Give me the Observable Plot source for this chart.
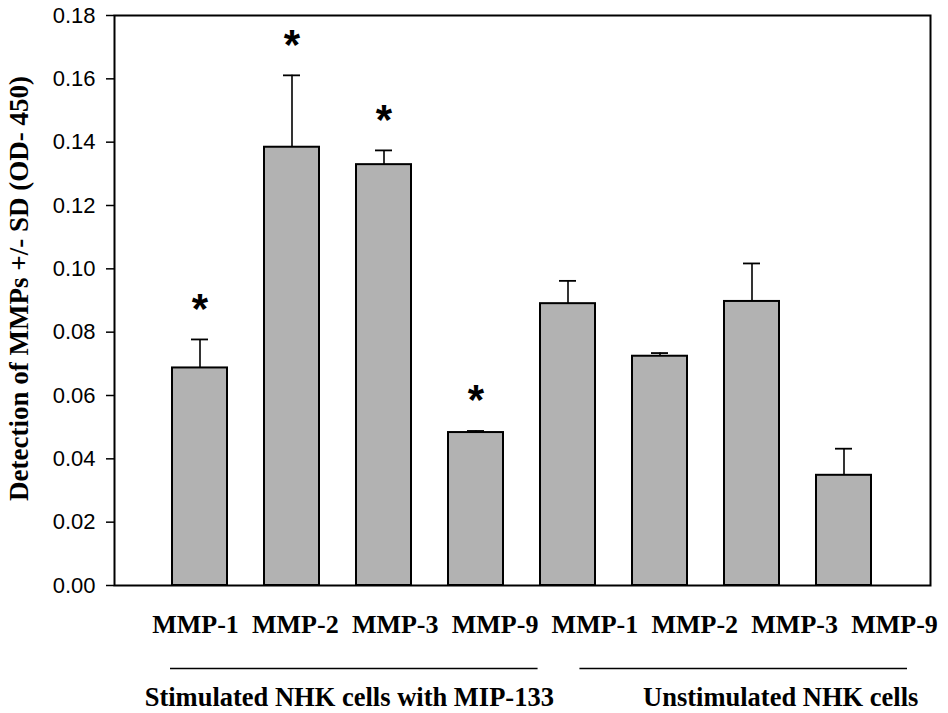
<!DOCTYPE html>
<html><head><meta charset="utf-8">
<script src="https://cdn.jsdelivr.net/npm/d3@7"></script>
<script src="https://cdn.jsdelivr.net/npm/@observablehq/plot@0.6"></script>
<style>
body{margin:0;background:#fff;}
#chart{position:relative;width:948px;height:713px;background:#fff;}
#chart svg{position:absolute;left:0;}
</style></head><body><div id="chart"></div>
<script>
const groups = ["Stimulated NHK cells with MIP-133", "Unstimulated NHK cells"];
const mmps = ["MMP-1", "MMP-2", "MMP-3", "MMP-9"];
const stimMeans = [0.0687, 0.1384, 0.1329, 0.0483];
const stimSD = [0.0090, 0.0227, 0.0045, 0.0005];
const stimSignificant = [true, true, true, true];
const unstimMeans = [0.0890, 0.0724, 0.0897, 0.0348];
const unstimSD = [0.0072, 0.0010, 0.0120, 0.0084];
const unstimSignificant = [false, false, false, false];
const yTicks = [0, 0.02, 0.04, 0.06, 0.08, 0.10, 0.12, 0.14, 0.16, 0.18];
const yTitle = "Detection of MMPs +/- SD (OD- 450)";

const means = [stimMeans, unstimMeans];
const sds = [stimSD, unstimSD];
const sigs = [stimSignificant, unstimSignificant];
const rows = [];
groups.forEach((g, gi) => mmps.forEach((m, mi) => rows.push({
  key: gi + "|" + m, group: g, gi, mmp: m,
  mean: means[gi][mi], sd: sds[gi][mi], sig: sigs[gi][mi], index: rows.length
})));
const spans = groups.map((g, gi) => {
  const r = rows.filter(d => d.gi === gi);
  return {group: g, gi, first: r[0].index, last: r[r.length - 1].index};
});

const serif = "'Liberation Serif', 'Times New Roman', serif";
const sans = "'Liberation Sans', Arial, sans-serif";

const main = Plot.plot({
  width: 948, height: 600,
  marginLeft: 114, marginRight: 18, marginTop: 15, marginBottom: 15,
  x: {type: "band", domain: rows.map(d => d.key), paddingInner: 0.4, paddingOuter: 0.6, axis: null},
  y: {domain: [0, 0.18], axis: null},
  style: {background: "white", fontFamily: sans, fontSize: "22px", color: "black", overflow: "visible"},
  marks: [
    Plot.barY(rows, {x: "key", y: "mean", fill: "#b2b2b2", stroke: "black", strokeWidth: 2}),
    Plot.ruleX(rows, {x: "key", y1: "mean", y2: d => d.mean + d.sd, stroke: "black", strokeWidth: 1.6}),
    Plot.tickY(rows, {x: "key", y: d => d.mean + d.sd, stroke: "black", strokeWidth: 1.8, insetLeft: 19, insetRight: 19}),
    Plot.text(rows.filter(d => d.sig), {x: "key", y: d => d.mean + d.sd, text: () => "*", fontSize: 42, fontWeight: "bold", fontFamily: sans, lineAnchor: "middle", dy: -30, fill: "black"}),
    Plot.frame({stroke: "black", strokeWidth: 2}),
    Plot.axisY({ticks: yTicks, tickFormat: d3.format(".2f"), tickSize: 8, tickPadding: 11, label: null, stroke: "black", strokeWidth: 1.5, fill: "black"}),
    Plot.text([yTitle], {frameAnchor: "left", textAnchor: "middle", rotate: -90, dx: -95, dy: -12, text: d => d, fontFamily: serif, fontWeight: "bold", fontSize: 27, lineAnchor: "middle", fill: "black"})
  ]
});
main.style.top = "0px";

const ann = Plot.plot({
  width: 948, height: 113,
  marginLeft: 195, marginRight: 54, marginTop: 0, marginBottom: 45,
  x: {domain: [0, 7], axis: null},
  y: {domain: [0, 1], axis: null},
  style: {background: "transparent", overflow: "visible"},
  marks: [
    Plot.text(rows, {x: "index", text: "mmp", frameAnchor: "top", dy: 24, lineAnchor: "middle", fontFamily: serif, fontWeight: "bold", fontSize: 26, fill: "black"}),
    Plot.ruleY(spans.filter(d => d.gi === 0), {y: () => 0, x1: "first", x2: "last", insetLeft: -25, insetRight: -43, stroke: "black", strokeWidth: 1.5}),
    Plot.ruleY(spans.filter(d => d.gi === 1), {y: () => 0, x1: "first", x2: "last", insetLeft: -15, insetRight: -13, stroke: "black", strokeWidth: 1.5}),
    Plot.text(spans.filter(d => d.gi === 0), {x: d => (d.first + d.last) / 2, text: "group", frameAnchor: "bottom", dy: 29, dx: 4, lineAnchor: "middle", fontFamily: serif, fontWeight: "bold", fontSize: 26.5, fill: "black"}),
    Plot.text(spans.filter(d => d.gi === 1), {x: d => (d.first + d.last) / 2, text: "group", frameAnchor: "bottom", dy: 29, dx: 36, lineAnchor: "middle", fontFamily: serif, fontWeight: "bold", fontSize: 26.5, fill: "black"})
  ]
});
ann.style.top = "600px";

const root = document.getElementById("chart");
root.append(main, ann);
</script></body></html>
